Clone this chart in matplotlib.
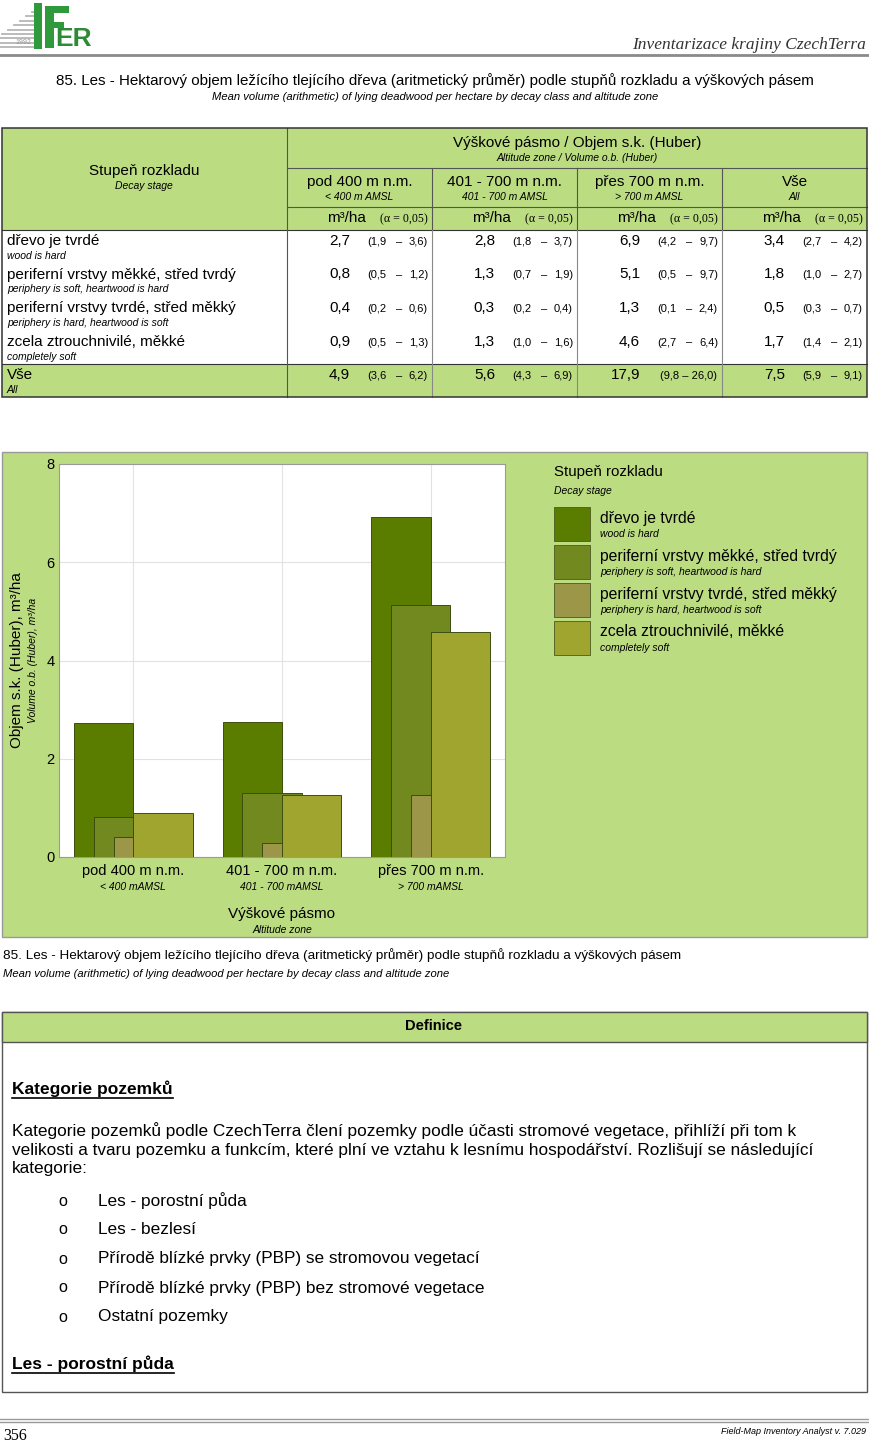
import matplotlib
matplotlib.use("Agg")
import matplotlib.pyplot as plt
from matplotlib.patches import Rectangle

plt.rcParams['font.family'] = ['Liberation Sans', 'DejaVu Sans']

# --- data -------------------------------------------------------------
zones = ["pod 400 m n.m.", "401 - 700 m n.m.", "přes 700 m n.m.", "Vše"]
zones_en = ["< 400 m AMSL", "401 - 700 m AMSL", "> 700 m AMSL", "All"]
zones_chart_en = ["< 400 mAMSL", "401 - 700 mAMSL", "> 700 mAMSL"]

stages = ["dřevo je tvrdé", "periferní vrstvy měkké, střed tvrdý",
          "periferní vrstvy tvrdé, střed měkký", "zcela ztrouchnivilé, měkké", "Vše"]
stages_en = ["wood is hard", "periphery is soft, heartwood is hard",
             "periphery is hard, heartwood is soft", "completely soft", "All"]

# table: mean, lower, upper (rows = stages + total, cols = zones + all)
mean = [[2.7, 2.8, 6.9, 3.4],
        [0.8, 1.3, 5.1, 1.8],
        [0.4, 0.3, 1.3, 0.5],
        [0.9, 1.3, 4.6, 1.7],
        [4.9, 5.6, 17.9, 7.5]]
lower = [[1.9, 1.8, 4.2, 2.7],
         [0.5, 0.7, 0.5, 1.0],
         [0.2, 0.2, 0.1, 0.3],
         [0.5, 1.0, 2.7, 1.4],
         [3.6, 4.3, 9.8, 5.9]]
upper = [[3.6, 3.7, 9.7, 4.2],
         [1.2, 1.9, 9.7, 2.7],
         [0.6, 0.4, 2.4, 0.7],
         [1.3, 1.6, 6.4, 2.1],
         [6.2, 6.9, 26.0, 9.1]]

# bar heights
hard = [2.73, 2.75, 6.93]
soft_out = [0.81, 1.30, 5.12]
soft_in = [0.40, 0.28, 1.26]
rotten = [0.89, 1.26, 4.57]

colors = ['#5a7d00', '#71891e', '#9c9748', '#a0a530']

land_cats = ["Les - porostní půda", "Les - bezlesí",
             "Přírodě blízké prvky (PBP) se stromovou vegetací",
             "Přírodě blízké prvky (PBP) bez stromové vegetace",
             "Ostatní pozemky"]

GREEN = '#bcdc82'
LINE = '#555555'


def fmt(v):
    return f"{v:.1f}".replace(".", ",")


fig = plt.figure(figsize=(8.69, 14.43), dpi=100)
page = fig.add_axes([0, 0, 1, 1])
page.set_xlim(0, 869)
page.set_ylim(1443, 0)
page.axis('off')


def box(x0, y0, x1, y1, fc='none', ec='none', lw=0.8, z=1):
    page.add_patch(Rectangle((x0, y0), x1 - x0, y1 - y0, fc=fc, ec=ec, lw=lw, zorder=z))


def hl(y, x0, x1, c=LINE, lw=0.8):
    page.plot([x0, x1], [y, y], color=c, lw=lw, zorder=3)


def vl(x, y0, y1, c=LINE, lw=0.8):
    page.plot([x, x], [y0, y1], color=c, lw=lw, zorder=3)


def txt(x, y, s, size=11, ha='left', style='normal', weight='normal', family=None, **kw):
    f = family if family else ['Liberation Sans', 'DejaVu Sans']
    return page.text(x, y, s, fontsize=size, ha=ha, va='center', style=style,
                     weight=weight, family=f, zorder=5, **kw)


def underline(t, y):
    r = fig.canvas.get_renderer()
    bb = t.get_window_extent(renderer=r)
    hl(y, bb.x0, bb.x1, c='black', lw=1.2)


# --- page header ------------------------------------------------------
# rough logo
for k in range(9):
    yy = 12 + k * 4.4
    half = 4 + k * 6
    page.plot([36 - half, 36], [yy, yy], color='#b5b5b5', lw=1.3, zorder=2)
page.add_patch(Rectangle((34, 3), 8, 46, fc='#2e9a3c', ec='none', zorder=3))
page.add_patch(Rectangle((45, 6), 9, 42, fc='#2e9a3c', ec='none', zorder=3))
page.add_patch(Rectangle((45, 6), 24, 7, fc='#2e9a3c', ec='none', zorder=3))
page.add_patch(Rectangle((45, 22), 19, 6, fc='#2e9a3c', ec='none', zorder=3))
txt(55, 39, "ER", size=19, weight='bold', color='#2e8b35')
txt(15, 43, "1992", size=5, color='#999999')
hl(55, 0, 869, c='#8a8a8a', lw=2.0)
txt(866, 45, "Inventarizace krajiny CzechTerra", size=12.5, ha='right', style='italic',
    family=['Liberation Serif'], color='#333333')

txt(435, 81, "85. Les - Hektarový objem ležícího tlejícího dřeva (aritmetický průměr) "
    "podle stupňů rozkladu a výškových pásem", size=10.9, ha='center')
txt(435, 97, "Mean volume (arithmetic) of lying deadwood per hectare by decay class and altitude zone",
    size=8.1, ha='center', style='italic')

# --- table ------------------------------------------------------------
T_L, T_R, T_TOP, H1, H2, H3, D_END, T_BOT = 2, 867, 128, 168, 207, 230, 364, 397
cols = [287, 432, 577, 722, 867]

box(T_L, T_TOP, T_R, H3, fc=GREEN)
box(T_L, H3, T_R, D_END, fc='white')
box(T_L, D_END, T_R, T_BOT, fc=GREEN)
box(T_L, T_TOP, T_R, T_BOT, ec='#333333', lw=1.1, z=4)
hl(H1, cols[0], T_R)
hl(H2, cols[0], T_R)
hl(H3, T_L, T_R, c='#333333')
hl(D_END, T_L, T_R, c='#333333')
vl(cols[0], T_TOP, T_BOT)
for c in cols[1:-1]:
    vl(c, H1, H2)
    vl(c, H2, H3)
    vl(c, H3, T_BOT, c='#888888')

txt(144, 171, "Stupeň rozkladu", size=11, ha='center')
txt(144, 186, "Decay stage", size=7.5, ha='center', style='italic')
txt(577, 143, "Výškové pásmo / Objem s.k. (Huber)", size=11, ha='center')
txt(577, 158, "Altitude zone / Volume o.b. (Huber)", size=7.5, ha='center', style='italic')

for j in range(4):
    cl, cr = cols[j], cols[j + 1]
    cx = (cl + cr) / 2
    txt(cx, 182, zones[j], size=11, ha='center')
    txt(cx, 197, zones_en[j], size=7.5, ha='center', style='italic')
    txt(cl + 79, 218, "m³/ha", size=11, ha='right')
    txt(cr - 4, 219, "(α = 0,05)", size=8.6, ha='right', family=['Liberation Serif', 'DejaVu Serif'])

for i in range(5):
    ym = 241 + i * 33.5
    txt(7, ym, stages[i], size=11)
    txt(7, ym + 15, stages_en[i], size=7.5, style='italic')
    for j in range(4):
        cl, cr = cols[j], cols[j + 1]
        txt(cl + 63, ym, fmt(mean[i][j]), size=11, ha='right')
        if upper[i][j] >= 10:
            txt(cr - 5, ym + 1, "(" + fmt(lower[i][j]) + " – " + fmt(upper[i][j]) + ")",
                size=8, ha='right')
        else:
            txt(cl + 80, ym + 1, "(" + fmt(lower[i][j]), size=8)
            txt(cl + 112, ym + 1, "–", size=8, ha='center')
            txt(cr - 4, ym + 1, fmt(upper[i][j]) + ")", size=8, ha='right')

# --- chart panel ------------------------------------------------------
box(2, 452, 867, 937, fc=GREEN, ec='#999999', lw=1.0)

W, H = 869.0, 1443.0
ax = fig.add_axes([59 / W, (H - 857) / H, (505 - 59) / W, (857 - 464) / H])
ax.set_facecolor('white')
ax.set_zorder(2)

x = [0, 1, 2]
series = [hard, soft_out, soft_in, rotten]
bw = 0.4
for k, vals in enumerate(series):
    ax.bar([xi - bw + k * bw / 3 for xi in x], vals, width=bw, align='edge',
           color=colors[k], edgecolor='#3d4d12', linewidth=0.7, zorder=3)

ax.set_xlim(-0.5, 2.5)
ax.set_ylim(0, 8)
ax.set_yticks([0, 2, 4, 6, 8])
ax.set_xticks(x)
ax.set_xticklabels([])
ax.tick_params(length=0, labelsize=10.5, pad=3)
ax.grid(True, color='#e2e2e2', lw=0.8, zorder=0)
for s in ax.spines.values():
    s.set_color('#9a9a9a')
    s.set_linewidth(0.8)

for xi in x:
    ax.text(xi, -0.035, zones[xi], transform=ax.get_xaxis_transform(), ha='center',
            va='center', fontsize=10.5)
    ax.text(xi, -0.077, zones_chart_en[xi], transform=ax.get_xaxis_transform(), ha='center',
            va='center', fontsize=7.5, style='italic')
ax.text(1, -0.145, "Výškové pásmo", transform=ax.get_xaxis_transform(), ha='center',
        va='center', fontsize=11)
ax.text(1, -0.186, "Altitude zone", transform=ax.get_xaxis_transform(), ha='center',
        va='center', fontsize=7.5, style='italic')
ax.text(-0.094, 0.5, "Objem s.k. (Huber), m³/ha", transform=ax.transAxes, rotation=90,
        ha='center', va='center', fontsize=11)
ax.text(-0.059, 0.5, "Volume o.b. (Huber), m³/ha", transform=ax.transAxes, rotation=90,
        ha='center', va='center', fontsize=7.5, style='italic')

# legend
txt(554, 472, "Stupeň rozkladu", size=10.8)
txt(554, 491, "Decay stage", size=7.5, style='italic')
for k in range(4):
    y0 = 507 + k * 38
    box(554, y0, 590, y0 + 34, fc=colors[k], ec='#4a5a20', lw=0.6, z=3)
    txt(600, y0 + 11, stages[k], size=11.3)
    txt(600, y0 + 27, stages_en[k], size=7.5, style='italic')

# caption
txt(3, 955, "85. Les - Hektarový objem ležícího tlejícího dřeva (aritmetický průměr) "
    "podle stupňů rozkladu a výškových pásem", size=9.7)
txt(3, 974, "Mean volume (arithmetic) of lying deadwood per hectare by decay class and altitude zone",
    size=8.1, style='italic')

# --- definitions box --------------------------------------------------
box(2, 1012, 867, 1392, fc='white', ec=LINE, lw=1.0, z=1)
box(2, 1012, 867, 1042, fc=GREEN, ec=LINE, lw=1.0, z=2)
txt(434, 1026, "Definice", size=10.5, ha='center', weight='bold')

t = txt(12, 1089, "Kategorie pozemků", size=12.5, weight='bold')
underline(t, 1098)

para = ["Kategorie pozemků podle CzechTerra člení pozemky podle účasti stromové vegetace, přihlíží při tom k",
        "velikosti a tvaru pozemku a funkcím, které plní ve vztahu k lesnímu hospodářství. Rozlišují se následující",
        "kategorie:"]
for i, line in enumerate(para):
    txt(12, 1131 + i * 19, line, size=12.4)

for i, c in enumerate(land_cats):
    yy = 1201 + i * 29
    txt(58, yy, "o", size=11.5)
    txt(98, yy, c, size=12.4)

t = txt(12, 1364, "Les - porostní půda", size=12.5, weight='bold')
underline(t, 1373)

# --- footer -----------------------------------------------------------
hl(1419, 0, 869, c='#999999', lw=1.0)
hl(1421.5, 0, 869, c='#999999', lw=1.0)
txt(3, 1436, "356", size=11.5, family=['Liberation Serif'])
txt(866, 1431, "Field-Map Inventory Analyst v. 7.029", size=6.5, ha='right', style='italic')

fig.savefig("out.png", dpi=100)
